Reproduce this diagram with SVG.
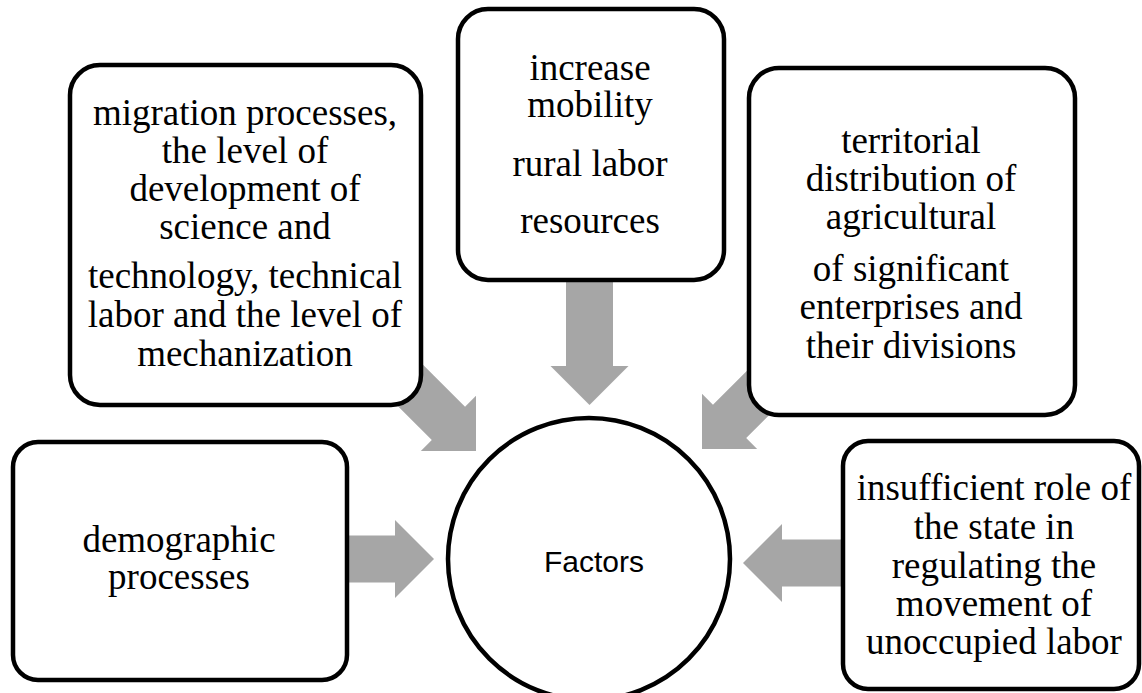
<svg xmlns="http://www.w3.org/2000/svg" width="1142" height="693" viewBox="0 0 1142 693">
<style>
.box{fill:#fff;stroke:#000;stroke-width:4.5}
.t{font-family:"Liberation Serif","Times New Roman",serif;font-size:37px;fill:#000;text-anchor:middle}
.f{font-family:"Liberation Sans",Arial,sans-serif;font-size:30px;fill:#000;text-anchor:middle}
.arr{fill:#a6a6a6}
</style>
<defs>
<polygon id="blk" points="-130,-23.5 -39,-23.5 -39,-39 0,0 -39,39 -39,23.5 -130,23.5"/>
</defs>
<rect width="1142" height="693" fill="#fff"/>
<g id="connectors" class="arr">
<use href="#blk" transform="translate(476,451) rotate(45)"/>
<use href="#blk" transform="translate(589.5,405) rotate(90)"/>
<use href="#blk" transform="translate(702,449) rotate(135)"/>
<use href="#blk" transform="translate(434,559)"/>
<use href="#blk" transform="translate(743,563) rotate(180)"/>
</g>
<g id="n1">
<rect class="box" x="70" y="65" width="351" height="340" rx="30"/>
<text class="t"><tspan x="245" y="125">migration processes,</tspan><tspan x="245" y="163">the level of</tspan><tspan x="245" y="201">development of</tspan><tspan x="245" y="239">science and</tspan><tspan x="245" y="288">technology, technical</tspan><tspan x="245" y="327">labor and the level of</tspan><tspan x="245" y="366">mechanization</tspan></text>
</g>
<g id="n2">
<rect class="box" x="458" y="9" width="266" height="271" rx="30"/>
<text class="t"><tspan x="590" y="80">increase</tspan><tspan x="590" y="117">mobility</tspan><tspan x="590" y="176">rural labor</tspan><tspan x="590" y="233">resources</tspan></text>
</g>
<g id="n3">
<rect class="box" x="749" y="68" width="326" height="347" rx="30"/>
<text class="t"><tspan x="911" y="153">territorial</tspan><tspan x="911" y="191">distribution of</tspan><tspan x="911" y="229">agricultural</tspan><tspan x="911" y="281">of significant</tspan><tspan x="911" y="319">enterprises and</tspan><tspan x="911" y="358">their divisions</tspan></text>
</g>
<g id="n4">
<rect class="box" x="13" y="442" width="334" height="238" rx="25"/>
<text class="t"><tspan x="179" y="552">demographic</tspan><tspan x="179" y="589">processes</tspan></text>
</g>
<g id="n5">
<rect class="box" x="843" y="441" width="296" height="248" rx="25"/>
<text class="t"><tspan x="994" y="500">insufficient role of</tspan><tspan x="994" y="539">the state in</tspan><tspan x="994" y="578">regulating the</tspan><tspan x="994" y="616">movement of</tspan><tspan x="994" y="654">unoccupied labor</tspan></text>
</g>
<g id="center">
<circle class="box" cx="589" cy="559" r="141"/>
<text class="f" x="594" y="572">Factors</text>
</g>
</svg>
